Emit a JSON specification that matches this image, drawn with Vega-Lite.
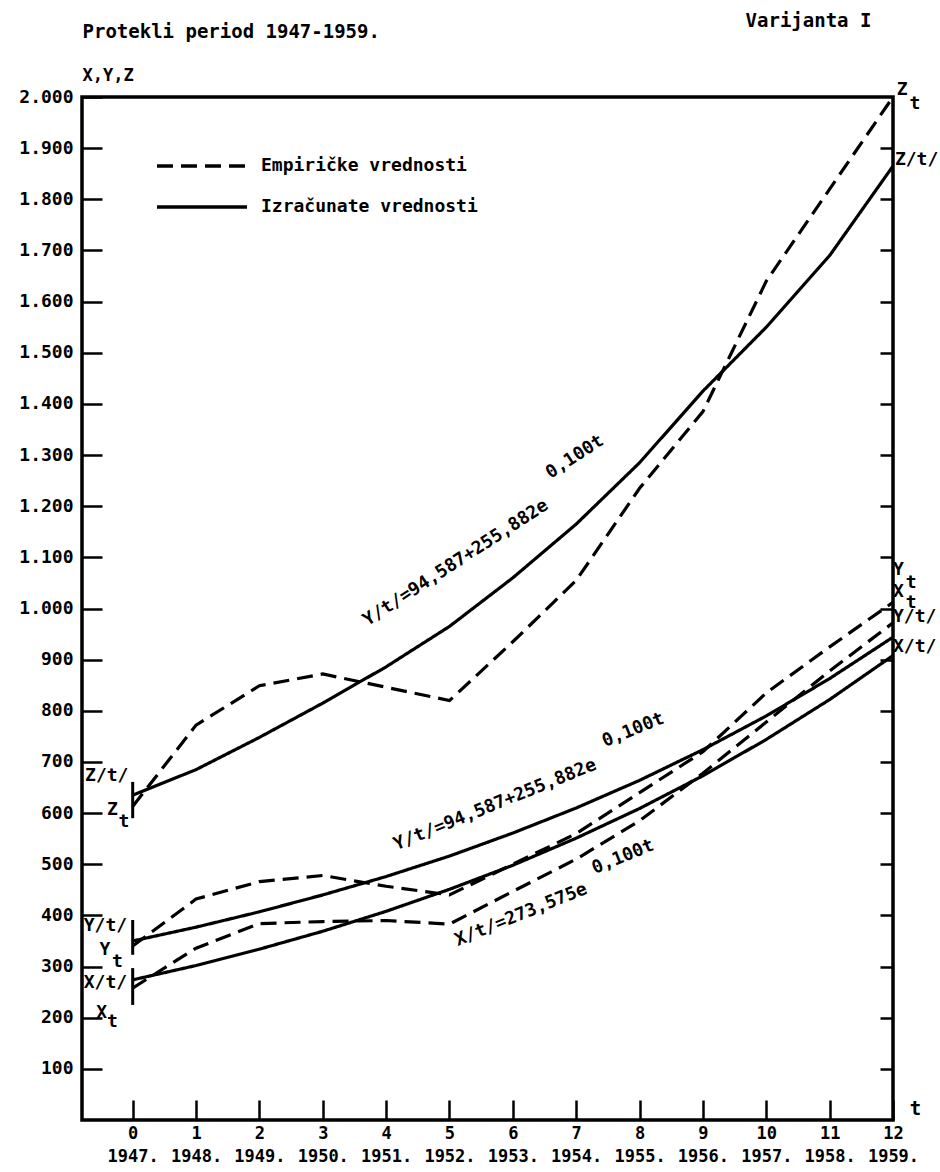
{
  "$schema": "https://vega.github.io/schema/vega-lite/v6.json",
  "width": 811,
  "height": 1023,
  "autosize": "none",
  "padding": {"left": 82, "top": 97, "right": 47, "bottom": 52},
  "background": "white",
  "config": {
    "font": "DejaVu Sans Mono",
    "view": {"stroke": "black", "strokeWidth": 3.5},
    "axis": {"grid": false, "labelFont": "DejaVu Sans Mono", "labelFontWeight": "bold", "labelColor": "black", "titleFont": "DejaVu Sans Mono", "titleFontWeight": "bold", "titleColor": "black", "tickColor": "black", "domainColor": "black"},
    "text": {"font": "DejaVu Sans Mono", "fontWeight": "bold", "color": "black"}
  },
  "datasets": {
    "series": [
      {"t": 0, "value": 635, "series": "Z", "kind": "Izračunate vrednosti"},
      {"t": 1, "value": 685, "series": "Z", "kind": "Izračunate vrednosti"},
      {"t": 2, "value": 748, "series": "Z", "kind": "Izračunate vrednosti"},
      {"t": 3, "value": 815, "series": "Z", "kind": "Izračunate vrednosti"},
      {"t": 4, "value": 886, "series": "Z", "kind": "Izračunate vrednosti"},
      {"t": 5, "value": 965, "series": "Z", "kind": "Izračunate vrednosti"},
      {"t": 6, "value": 1060, "series": "Z", "kind": "Izračunate vrednosti"},
      {"t": 7, "value": 1165, "series": "Z", "kind": "Izračunate vrednosti"},
      {"t": 8, "value": 1285, "series": "Z", "kind": "Izračunate vrednosti"},
      {"t": 9, "value": 1425, "series": "Z", "kind": "Izračunate vrednosti"},
      {"t": 10, "value": 1550, "series": "Z", "kind": "Izračunate vrednosti"},
      {"t": 11, "value": 1690, "series": "Z", "kind": "Izračunate vrednosti"},
      {"t": 12, "value": 1865, "series": "Z", "kind": "Izračunate vrednosti"},
      {"t": 0, "value": 613, "series": "Z", "kind": "Empiričke vrednosti"},
      {"t": 1, "value": 772, "series": "Z", "kind": "Empiričke vrednosti"},
      {"t": 2, "value": 849, "series": "Z", "kind": "Empiričke vrednosti"},
      {"t": 3, "value": 872, "series": "Z", "kind": "Empiričke vrednosti"},
      {"t": 4, "value": 846, "series": "Z", "kind": "Empiričke vrednosti"},
      {"t": 5, "value": 820, "series": "Z", "kind": "Empiričke vrednosti"},
      {"t": 6, "value": 935, "series": "Z", "kind": "Empiričke vrednosti"},
      {"t": 7, "value": 1055, "series": "Z", "kind": "Empiričke vrednosti"},
      {"t": 8, "value": 1235, "series": "Z", "kind": "Empiričke vrednosti"},
      {"t": 9, "value": 1385, "series": "Z", "kind": "Empiričke vrednosti"},
      {"t": 10, "value": 1640, "series": "Z", "kind": "Empiričke vrednosti"},
      {"t": 11, "value": 1820, "series": "Z", "kind": "Empiričke vrednosti"},
      {"t": 12, "value": 2000, "series": "Z", "kind": "Empiričke vrednosti"},
      {"t": 0, "value": 350, "series": "Y", "kind": "Izračunate vrednosti"},
      {"t": 1, "value": 377, "series": "Y", "kind": "Izračunate vrednosti"},
      {"t": 2, "value": 407, "series": "Y", "kind": "Izračunate vrednosti"},
      {"t": 3, "value": 440, "series": "Y", "kind": "Izračunate vrednosti"},
      {"t": 4, "value": 476, "series": "Y", "kind": "Izračunate vrednosti"},
      {"t": 5, "value": 516, "series": "Y", "kind": "Izračunate vrednosti"},
      {"t": 6, "value": 561, "series": "Y", "kind": "Izračunate vrednosti"},
      {"t": 7, "value": 610, "series": "Y", "kind": "Izračunate vrednosti"},
      {"t": 8, "value": 664, "series": "Y", "kind": "Izračunate vrednosti"},
      {"t": 9, "value": 724, "series": "Y", "kind": "Izračunate vrednosti"},
      {"t": 10, "value": 790, "series": "Y", "kind": "Izračunate vrednosti"},
      {"t": 11, "value": 863, "series": "Y", "kind": "Izračunate vrednosti"},
      {"t": 12, "value": 944, "series": "Y", "kind": "Izračunate vrednosti"},
      {"t": 0, "value": 340, "series": "Y", "kind": "Empiričke vrednosti"},
      {"t": 1, "value": 432, "series": "Y", "kind": "Empiričke vrednosti"},
      {"t": 2, "value": 466, "series": "Y", "kind": "Empiričke vrednosti"},
      {"t": 3, "value": 478, "series": "Y", "kind": "Empiričke vrednosti"},
      {"t": 4, "value": 457, "series": "Y", "kind": "Empiričke vrednosti"},
      {"t": 5, "value": 440, "series": "Y", "kind": "Empiričke vrednosti"},
      {"t": 6, "value": 500, "series": "Y", "kind": "Empiričke vrednosti"},
      {"t": 7, "value": 560, "series": "Y", "kind": "Empiričke vrednosti"},
      {"t": 8, "value": 640, "series": "Y", "kind": "Empiričke vrednosti"},
      {"t": 9, "value": 720, "series": "Y", "kind": "Empiričke vrednosti"},
      {"t": 10, "value": 835, "series": "Y", "kind": "Empiričke vrednosti"},
      {"t": 11, "value": 925, "series": "Y", "kind": "Empiričke vrednosti"},
      {"t": 12, "value": 1012, "series": "Y", "kind": "Empiričke vrednosti"},
      {"t": 0, "value": 274, "series": "X", "kind": "Izračunate vrednosti"},
      {"t": 1, "value": 302, "series": "X", "kind": "Izračunate vrednosti"},
      {"t": 2, "value": 334, "series": "X", "kind": "Izračunate vrednosti"},
      {"t": 3, "value": 369, "series": "X", "kind": "Izračunate vrednosti"},
      {"t": 4, "value": 408, "series": "X", "kind": "Izračunate vrednosti"},
      {"t": 5, "value": 451, "series": "X", "kind": "Izračunate vrednosti"},
      {"t": 6, "value": 498, "series": "X", "kind": "Izračunate vrednosti"},
      {"t": 7, "value": 551, "series": "X", "kind": "Izračunate vrednosti"},
      {"t": 8, "value": 609, "series": "X", "kind": "Izračunate vrednosti"},
      {"t": 9, "value": 673, "series": "X", "kind": "Izračunate vrednosti"},
      {"t": 10, "value": 744, "series": "X", "kind": "Izračunate vrednosti"},
      {"t": 11, "value": 822, "series": "X", "kind": "Izračunate vrednosti"},
      {"t": 12, "value": 908, "series": "X", "kind": "Izračunate vrednosti"},
      {"t": 0, "value": 258, "series": "X", "kind": "Empiričke vrednosti"},
      {"t": 1, "value": 336, "series": "X", "kind": "Empiričke vrednosti"},
      {"t": 2, "value": 384, "series": "X", "kind": "Empiričke vrednosti"},
      {"t": 3, "value": 388, "series": "X", "kind": "Empiričke vrednosti"},
      {"t": 4, "value": 390, "series": "X", "kind": "Empiričke vrednosti"},
      {"t": 5, "value": 383, "series": "X", "kind": "Empiričke vrednosti"},
      {"t": 6, "value": 447, "series": "X", "kind": "Empiričke vrednosti"},
      {"t": 7, "value": 510, "series": "X", "kind": "Empiričke vrednosti"},
      {"t": 8, "value": 585, "series": "X", "kind": "Empiričke vrednosti"},
      {"t": 9, "value": 678, "series": "X", "kind": "Empiričke vrednosti"},
      {"t": 10, "value": 778, "series": "X", "kind": "Empiričke vrednosti"},
      {"t": 11, "value": 878, "series": "X", "kind": "Empiričke vrednosti"},
      {"t": 12, "value": 972, "series": "X", "kind": "Empiričke vrednosti"}
    ],
    "bars": [
      {"series": "Z", "t": 0, "lo": 590, "hi": 661},
      {"series": "Y", "t": 0, "lo": 323, "hi": 391},
      {"series": "X", "t": 0, "lo": 225, "hi": 297}
    ],
    "formula_top": [
      {"t": 5.10, "value": 1089, "text": "Y/t/=94,587+255,882e"},
      {"t": 6.98, "value": 1296, "text": "0,100t"}
    ],
    "formula_low": [
      {"t": 5.72, "value": 616, "text": "Y/t/=94,587+255,882e"},
      {"t": 7.90, "value": 762, "text": "0,100t"},
      {"t": 6.13, "value": 401, "text": "X/t/=273,575e"},
      {"t": 7.74, "value": 514, "text": "0,100t"}
    ],
    "left_labels": [
      {"t": -0.41, "value": 672, "text": "Z/t/"},
      {"t": -0.32, "value": 606, "text": "Z"},
      {"t": -0.43, "value": 379, "text": "Y/t/"},
      {"t": -0.44, "value": 332, "text": "Y"},
      {"t": -0.43, "value": 268, "text": "X/t/"},
      {"t": -0.49, "value": 209, "text": "X"},
      {"t": -0.14, "value": 583, "text": "t"},
      {"t": -0.24, "value": 309, "text": "t"},
      {"t": -0.32, "value": 192, "text": "t"}
    ],
    "right_labels": [
      {"t": 12.06, "value": 2014, "text": "Z"},
      {"t": 12.26, "value": 1986, "text": "t"},
      {"t": 12.03, "value": 1877, "text": "Z/t/"},
      {"t": 12.0, "value": 1075, "text": "Y"},
      {"t": 12.2, "value": 1050, "text": "t"},
      {"t": 12.0, "value": 1032, "text": "X"},
      {"t": 12.2, "value": 1011, "text": "t"},
      {"t": 12.0, "value": 983, "text": "Y/t/"},
      {"t": 12.0, "value": 925, "text": "X/t/"}
    ]
  },
  "resolve": {"axis": {"y": "independent", "x": "independent"}},
  "layer": [
    {
      "data": {"name": "series"},
      "mark": {"type": "line", "color": "black", "strokeWidth": 3.2},
      "encoding": {
        "x": {"field": "t", "type": "quantitative", "scale": {"domain": [-0.8, 12], "nice": false, "zero": false},
          "axis": {"orient": "bottom", "values": [0,1,2,3,4,5,6,7,8,9,10,11,12], "labelExpr": "[format(datum.value, 'd'), format(datum.value + 1947, 'd') + '.']", "labelOverlap": false, "labelFlush": false, "labelFontSize": 17, "labelLineHeight": 23, "tickSize": -20, "tickWidth": 2.5, "labelPadding": 25, "domain": false, "title": "t", "titleFontSize": 19, "titleX": 833, "titleY": -12, "titleAlign": "center", "titleBaseline": "middle"}},
        "y": {"field": "value", "type": "quantitative", "scale": {"domain": [0, 2000], "nice": false, "zero": false},
          "axis": {"orient": "left", "values": [100,200,300,400,500,600,700,800,900,1000,1100,1200,1300,1400,1500,1600,1700,1800,1900,2000], "labelExpr": "datum.value >= 1000 ? format(datum.value / 1000, '.3f') : format(datum.value, 'd')", "labelFlush": false, "labelFontSize": 18, "labelPadding": 29, "tickSize": -20, "tickWidth": 2.5, "domain": false, "title": "X,Y,Z", "titleAngle": 0, "titleFontSize": 17, "titleX": 0, "titleY": -22, "titleAlign": "left", "titleBaseline": "middle"}},
        "detail": {"field": "series"},
        "strokeDash": {"field": "kind", "type": "nominal",
          "scale": {"domain": ["Empiričke vrednosti", "Izračunate vrednosti"], "range": [[16, 8], [1, 0]]},
          "legend": {"title": null, "orient": "none", "legendX": 73, "legendY": 59, "symbolType": "stroke", "symbolSize": 8100, "symbolStrokeWidth": 3.5, "symbolStrokeColor": "black", "clipHeight": 20, "labelFontSize": 18, "labelFont": "DejaVu Sans Mono", "labelFontWeight": "bold", "labelColor": "black", "labelOffset": 12, "rowPadding": 21, "labelLimit": 0}}
      }
    },
    {
      "data": {"name": "bars"},
      "mark": {"type": "rule", "color": "black", "strokeWidth": 3},
      "encoding": {
        "x": {"field": "t", "type": "quantitative",
          "axis": {"orient": "top", "labels": false, "ticks": false, "domain": false, "title": "Protekli period 1947-1959.", "titleFontSize": 19, "titleX": 0, "titleY": -66, "titleAlign": "left", "titleBaseline": "middle"}},
        "y": {"field": "lo", "type": "quantitative", "scale": {"domain": [0, 2000], "nice": false, "zero": false},
          "axis": {"orient": "right", "values": [100,200,300,400,500,600,700,800,900,1000,1100,1200,1300,1400,1500,1600,1700,1800,1900], "labels": false, "tickSize": -13, "tickWidth": 2.5, "domain": false, "title": "Varijanta I", "titleAngle": 0, "titleFontSize": 19, "titleX": -85, "titleY": -77, "titleAlign": "center", "titleBaseline": "middle"}},
        "y2": {"field": "hi"}
      }
    },
    {
      "data": {"name": "formula_top"},
      "mark": {"type": "text", "angle": -33, "fontSize": 18, "align": "center", "baseline": "middle"},
      "encoding": {
        "x": {"field": "t", "type": "quantitative", "axis": null},
        "y": {"field": "value", "type": "quantitative", "axis": null},
        "text": {"field": "text"}
      }
    },
    {
      "data": {"name": "formula_low"},
      "mark": {"type": "text", "angle": -22, "fontSize": 18, "align": "center", "baseline": "middle"},
      "encoding": {
        "x": {"field": "t", "type": "quantitative", "axis": null},
        "y": {"field": "value", "type": "quantitative", "axis": null},
        "text": {"field": "text"}
      }
    },
    {
      "data": {"name": "left_labels"},
      "mark": {"type": "text", "fontSize": 18, "align": "center", "baseline": "middle"},
      "encoding": {
        "x": {"field": "t", "type": "quantitative", "axis": null},
        "y": {"field": "value", "type": "quantitative", "axis": null},
        "text": {"field": "text"}
      }
    },
    {
      "data": {"name": "right_labels"},
      "mark": {"type": "text", "fontSize": 18, "align": "left", "baseline": "middle"},
      "encoding": {
        "x": {"field": "t", "type": "quantitative", "axis": null},
        "y": {"field": "value", "type": "quantitative", "axis": null},
        "text": {"field": "text"}
      }
    }
  ]
}
